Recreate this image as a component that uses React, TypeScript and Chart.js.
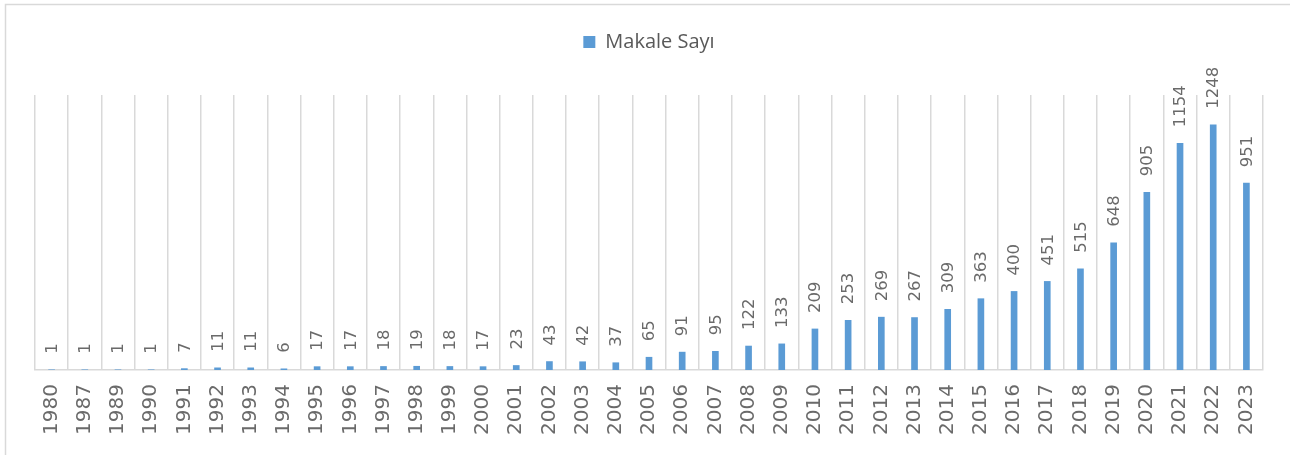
import React, { useEffect, useRef } from "react";
import { Chart, registerables } from "chart.js";

Chart.register(...registerables);

const categories: string[] = [
  "1980", "1987", "1989", "1990", "1991", "1992", "1993", "1994", "1995", "1996",
  "1997", "1998", "1999", "2000", "2001", "2002", "2003", "2004", "2005", "2006",
  "2007", "2008", "2009", "2010", "2011", "2012", "2013", "2014", "2015", "2016",
  "2017", "2018", "2019", "2020", "2021", "2022", "2023",
];
const makaleSayi: number[] = [
  1, 1, 1, 1, 7, 11, 11, 6, 17, 17,
  18, 19, 18, 17, 23, 43, 42, 37, 65, 91,
  95, 122, 133, 209, 253, 269, 267, 309, 363, 400,
  451, 515, 648, 905, 1154, 1248, 951,
];
const seriesName = "Makale Sayı";

const frame = {
  id: "frame",
  beforeDraw(chart: any) {
    const ctx = chart.ctx;
    ctx.save();
    ctx.fillStyle = "#ffffff";
    ctx.fillRect(0, 0, chart.width, chart.height);
    ctx.strokeStyle = "#d9d9d9";
    ctx.lineWidth = 1.5;
    ctx.strokeRect(5.5, 4.5, chart.width + 10, chart.height + 20);
    ctx.restore();
  },
};

const barLabels = {
  id: "barLabels",
  afterDatasetsDraw(chart: any) {
    const ctx = chart.ctx;
    const meta = chart.getDatasetMeta(0);
    const data = chart.data.datasets[0].data;
    ctx.save();
    ctx.fillStyle = "#6a6a6a";
    ctx.font = "16.5px DejaVu Sans";
    ctx.textAlign = "left";
    ctx.textBaseline = "middle";
    meta.data.forEach((el: any, i: number) => {
      ctx.save();
      ctx.translate(el.x + 1, el.y - 16);
      ctx.rotate(-Math.PI / 2);
      ctx.fillText(String(data[i]), 0, 0);
      ctx.restore();
    });
    ctx.restore();
  },
};

export default function App() {
  const ref = useRef<HTMLCanvasElement | null>(null);
  useEffect(() => {
    document.body.style.margin = "0";
    if (!ref.current) return;
    const chart = new Chart(ref.current, {
      type: "bar",
      data: {
        labels: categories,
        datasets: [
          {
            label: seriesName,
            data: makaleSayi,
            backgroundColor: "#5B9BD5",
            borderWidth: 0,
            barThickness: 6,
          },
        ],
      },
      options: {
        responsive: false,
        animation: false,
        devicePixelRatio: 1,
        layout: { padding: { left: 35, right: 27, top: 22, bottom: 0 } },
        plugins: {
          legend: {
            display: true,
            position: "top",
            weight: 3000,
            labels: {
              boxWidth: 12,
              boxHeight: 12,
              padding: 10,
              color: "#595959",
              font: { family: "Open Sans", size: 20 },
            },
          },
          title: {
            display: true,
            text: "",
            position: "top",
            weight: 2000,
            font: { size: 10, lineHeight: 1.2 },
            padding: { top: 0, bottom: 21 },
          },
          tooltip: { enabled: false },
        },
        scales: {
          x: {
            grid: {
              display: true,
              color: "#d9d9d9",
              lineWidth: 1.5,
              drawTicks: false,
              offset: true,
            },
            border: { display: true, color: "#d9d9d9", width: 1.5 },
            ticks: {
              autoSkip: false,
              minRotation: 90,
              maxRotation: 90,
              padding: 14,
              color: "#6a6a6a",
              font: { family: "DejaVu Sans", size: 20 },
            },
            afterFit(scale: any) {
              scale.height = 85;
            },
          },
          y: {
            display: false,
            min: 0,
            max: 1400,
          },
        },
      },
      plugins: [frame, barLabels],
    });
    return () => chart.destroy();
  }, []);
  return (
    <div style={{ width: 1290, height: 455 }}>
      <canvas ref={ref} width={1290} height={455} style={{ width: 1290, height: 455, display: "block" }} />
    </div>
  );
}
